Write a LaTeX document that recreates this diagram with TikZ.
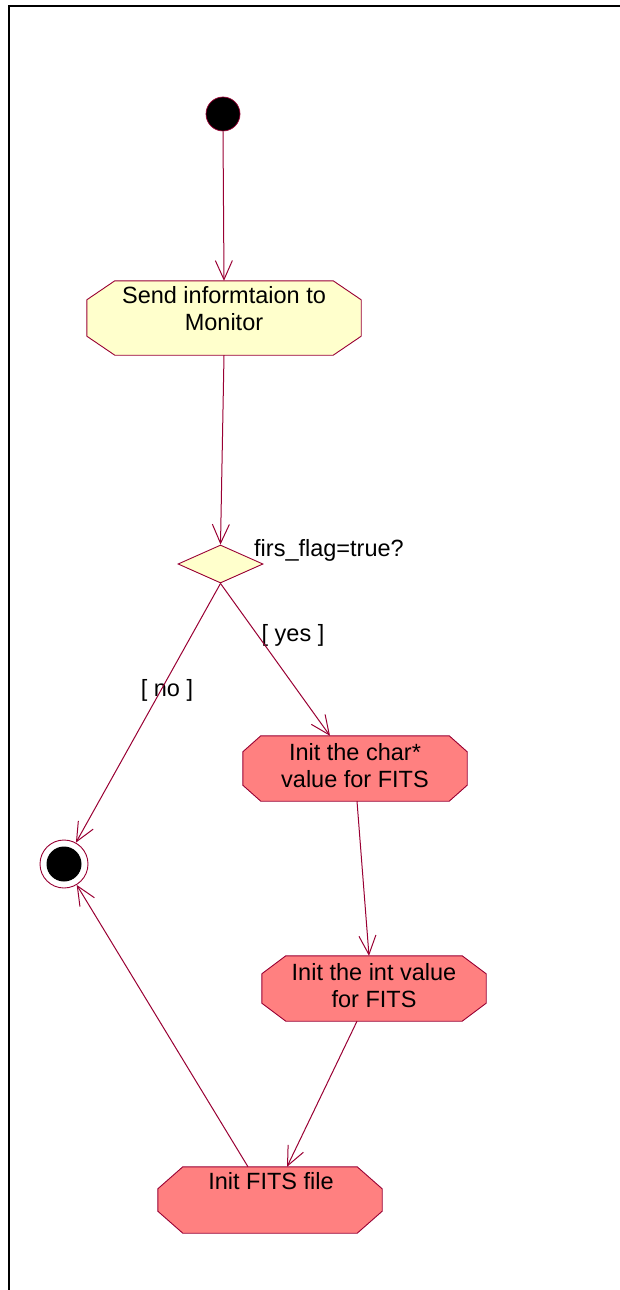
\documentclass[tikz,border=0pt]{standalone}
\usepackage{fontspec}
\setmainfont{Liberation Sans}
\usetikzlibrary{arrows.meta,shapes.geometric,calc}
\definecolor{umlline}{HTML}{990033}
\definecolor{umlyellow}{HTML}{FFFFCC}
\definecolor{umlred}{HTML}{FF8080}

% octagonal activity outline around a named rectangle node:
% #1 node, #2 horizontal chamfer, #3 vertical chamfer, #4 fill colour
\newcommand{\activityoutline}[4]{%
  \filldraw[fill=#4, draw=umlline, line width=0.9pt, line join=round]
    ($(#1.north west)+(#2,0)$) -- ($(#1.north east)+(-#2,0)$)
    -- ($(#1.north east)+(0,#3)$) -- ($(#1.south east)+(0,-#3)$)
    -- ($(#1.south east)+(-#2,0)$) -- ($(#1.south west)+(#2,0)$)
    -- ($(#1.south west)+(0,-#3)$) -- ($(#1.north west)+(0,#3)$) -- cycle;}

\begin{document}
\begin{tikzpicture}[x=1pt,y=-1pt,
  txt/.style={font=\fontsize{23.5}{27}\selectfont, align=center, inner sep=0pt},
  flow/.style={draw=umlline, line width=1pt, -{Straight Barb[length=19pt,width=17pt,line width=1pt]}},
  actbox/.style={rectangle, inner sep=0pt},
  startdot/.style={circle, fill=black, draw=umlline, line width=0.7pt, minimum size=34pt, inner sep=0pt},
  enddot/.style={circle, fill=white, draw=umlline, line width=0.9pt, minimum size=48pt, inner sep=0pt,
    path picture={\fill[black] (path picture bounding box.center) circle (17.5pt);}},
  decision/.style={diamond, fill=umlyellow, draw=umlline, line width=0.9pt, minimum width=85pt, minimum height=38pt, inner sep=0pt}
]
% page frame
\useasboundingbox (0,0) rectangle (620,1290);
\draw[line width=2pt] (9.3,1290) -- (9.3,6) -- (621,6);

% start
\node[startdot] (s) at (223,114) {};

% activity: send information
\node[actbox, minimum width=274pt, minimum height=74pt] (a1) at (224,318) {};
\activityoutline{a1}{28}{19}{umlyellow}
\node[txt] (a1t) at (224,309) {Send informtaion to\\Monitor};

% decision
\node[decision] (dec) at (220.5,564) {};
\node[txt, anchor=west] (dect) at (254,550) {firs\_flag=true?};

% activity: char* values
\node[actbox, minimum width=224pt, minimum height=65pt] (a2) at (355,768.5) {};
\activityoutline{a2}{18}{16}{umlred}
\node[txt] (a2t) at (355,766) {Init the char*\\value for FITS};

% activity: int values
\node[actbox, minimum width=224pt, minimum height=65pt] (a3) at (374,988.5) {};
\activityoutline{a3}{24}{18}{umlred}
\node[txt] (a3t) at (374,985.5) {Init the int value\\for FITS};

% activity: FITS file
\node[actbox, minimum width=224pt, minimum height=66pt] (a4) at (270,1200) {};
\activityoutline{a4}{25}{22}{umlred}
\node[txt] (a4t) at (271,1181) {Init FITS file};

% final state
\node[enddot] (fin) at (64,864) {};

% guard labels
\node[txt] (yes) at (293,635) {[ yes ]};
\node[txt] (no) at (167,690) {[ no ]};

% transitions
\draw[flow] (s.south) -- (a1.north);
\draw[flow] (a1.south) -- (dec.north);
\draw[flow] (dec.south) -- ($(a2.north)+(-25,0)$);
\draw[flow] (dec.south) -- (fin);
\draw[flow] ($(a2.south)+(2,0)$) -- ($(a3.north)+(-5,0)$);
\draw[flow] ($(a3.south)+(-17,0)$) -- ($(a4.north)+(17,0)$);
\draw[flow] ($(a4.north)+(-22,0)$) -- (fin);
\end{tikzpicture}
\end{document}
